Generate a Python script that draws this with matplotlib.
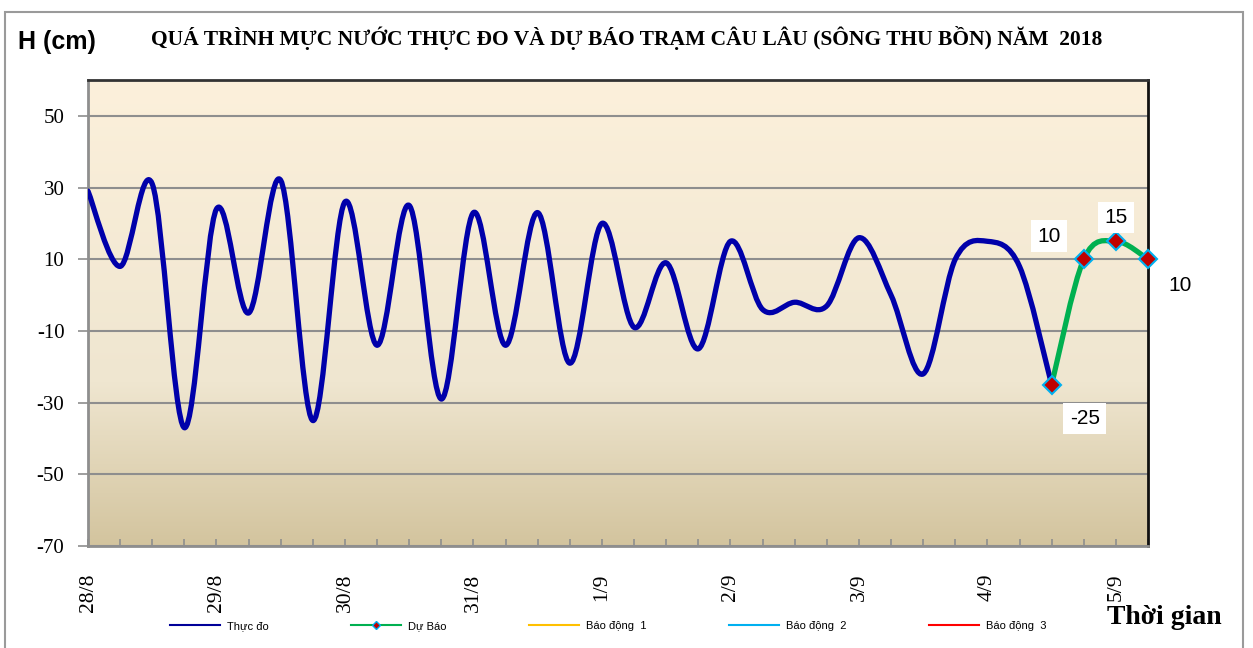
import matplotlib

matplotlib.use("Agg")
import matplotlib.pyplot as plt
import numpy as np
from matplotlib.colors import LinearSegmentedColormap
from matplotlib.lines import Line2D
from matplotlib.patches import PathPatch, Rectangle
from matplotlib.path import Path

# Mực nước thực đo, mỗi 6 giờ một giá trị (cm), từ 28/8
THUC_DO = [29, 8, 31, -37, 24, -5, 32, -35, 26, -14, 25, -29, 23, -14, 23, -19,
           20, -9, 9, -15, 15, -4, -2, -3, 16, 0, -22, 10, 15, 8, -25]
# Dự báo, bắt đầu từ điểm thực đo cuối cùng
DU_BAO = [-25, 10, 15, 10]
NGAY = ["28/8", "29/8", "30/8", "31/8", "1/9", "2/9", "3/9", "4/9", "5/9"]
DIEM_MOI_NGAY = 4
Y_TICKS = [-70, -50, -30, -10, 10, 30, 50]

TITLE = "QUÁ TRÌNH MỰC NƯỚC THỰC ĐO VÀ DỰ BÁO TRẠM CÂU LÂU (SÔNG THU BỒN) NĂM  2018"


def smooth_path(x, y):
    """Đường cong Bezier kiểu 'smoothed line' của Excel đi qua các điểm."""
    pts = np.column_stack([x, y]).astype(float)
    ext = np.vstack([pts[0], pts, pts[-1]])
    verts = [pts[0]]
    codes = [Path.MOVETO]
    for i in range(len(pts) - 1):
        p0, p1, p2, p3 = ext[i], ext[i + 1], ext[i + 2], ext[i + 3]
        verts += [p1 + (p2 - p0) / 6, p2 - (p3 - p1) / 6, p2]
        codes += [Path.CURVE4] * 3
    return Path(verts, codes)


W, H = 1253, 648
fig = plt.figure(figsize=(W / 100, H / 100), dpi=100)
fig.patch.set_facecolor("white")
fig.add_artist(Rectangle((5 / W, -0.02), 1238 / W, 1 - 12 / H + 0.02,
                         transform=fig.transFigure, fill=False,
                         edgecolor="#9a9a9a", lw=1.5))

ax = fig.add_axes([88 / W, 1 - 546 / H, (1148 - 88) / W, (546 - 80) / H])

n_total = len(THUC_DO) + len(DU_BAO) - 1
x_obs = np.arange(len(THUC_DO))
x_fc = np.arange(len(THUC_DO) - 1, n_total)

ax.set_xlim(0, n_total - 1)
ax.set_ylim(-70, 60)

# nền chuyển màu
cmap = LinearSegmentedColormap.from_list(
    "nen", [(0.0, "#d3c49e"), (0.35, "#efe6d0"), (1.0, "#fcf0db")])
grad = np.linspace(0, 1, 256).reshape(-1, 1)
ax.imshow(grad, cmap=cmap, aspect="auto", origin="lower",
          extent=[0, n_total - 1, -70, 60], zorder=0)

for yv in Y_TICKS:
    ax.axhline(yv, color="#8e8e8e", lw=1.5, zorder=1)

ax.add_patch(PathPatch(smooth_path(x_obs, THUC_DO), fill=False,
                       edgecolor="#0000aa", lw=3.8, capstyle="round",
                       joinstyle="round", zorder=3))
ax.add_patch(PathPatch(smooth_path(x_fc, DU_BAO), fill=False,
                       edgecolor="#00b050", lw=3.8, capstyle="round",
                       joinstyle="round", zorder=3))
ax.plot(x_fc, DU_BAO, linestyle="none", marker="D", markersize=9,
        markerfacecolor="#c00000", markeredgecolor="#00b0f0",
        markeredgewidth=1.5, zorder=4, clip_on=False)

# nhãn giá trị dự báo
offsets = [(33, -34), (-35, 23), (0, 24), (32, -26)]
for xv, yv, (dx, dy) in zip(x_fc, DU_BAO, offsets):
    ax.annotate(f"{yv}", (xv, yv), xytext=(dx, dy), textcoords="offset pixels",
                ha="center", va="center", fontsize=15, family="Liberation Sans",
                bbox=dict(boxstyle="square,pad=0.3", fc="white", ec="none"),
                zorder=5, annotation_clip=False)

# trục
ax.set_yticks(Y_TICKS)
ax.set_yticklabels([str(v) for v in Y_TICKS], family="Liberation Serif",
                   fontsize=15)
ax.tick_params(axis="y", direction="out", length=7, width=1.2,
               color="#8e8e8e", pad=10)
ax.set_xticks(np.arange(n_total))
ax.set_xticklabels([NGAY[i // DIEM_MOI_NGAY] if i % DIEM_MOI_NGAY == 0 else ""
                    for i in range(n_total)],
                   rotation=90, family="Liberation Serif", fontsize=15.5)
ax.tick_params(axis="x", direction="in", length=5, width=1.2,
               color="#8e8e8e", pad=20)

for side, col in [("left", "#8e8e8e"), ("bottom", "#8e8e8e"),
                  ("top", "#333333"), ("right", "#111111")]:
    ax.spines[side].set_color(col)
    ax.spines[side].set_linewidth(2)

fig.text(627 / W, 1 - 38 / H, TITLE, ha="center", va="center",
         family="Liberation Serif", fontweight="bold", fontsize=15.5)
fig.text(18 / W, 1 - 42 / H, "H (cm)", ha="left", va="center",
         family="Liberation Sans", fontweight="bold", fontsize=18)
fig.text(1222 / W, 1 - 617 / H, "Thời gian", ha="right", va="center",
         family="Liberation Serif", fontweight="bold", fontsize=20)

handles = [
    Line2D([], [], color="#000099", lw=1.5),
    Line2D([], [], color="#00b050", lw=1.5, marker="D", markersize=4,
           markerfacecolor="#c00000", markeredgecolor="#00b0f0"),
    Line2D([], [], color="#ffc000", lw=1.5),
    Line2D([], [], color="#00b0f0", lw=1.5),
    Line2D([], [], color="#ff0000", lw=1.5),
]
labels = ["Thực đo", "Dự Báo", "Báo động  1", "Báo động  2", "Báo động  3"]
fig.legend(handles, labels, loc="center", bbox_to_anchor=(608 / W, 1 - 626 / H),
           ncol=5, frameon=False, handlelength=4.5, columnspacing=7.45,
           handletextpad=0.6, prop={"family": "Liberation Sans", "size": 8})

fig.savefig("out.png", dpi=100)
